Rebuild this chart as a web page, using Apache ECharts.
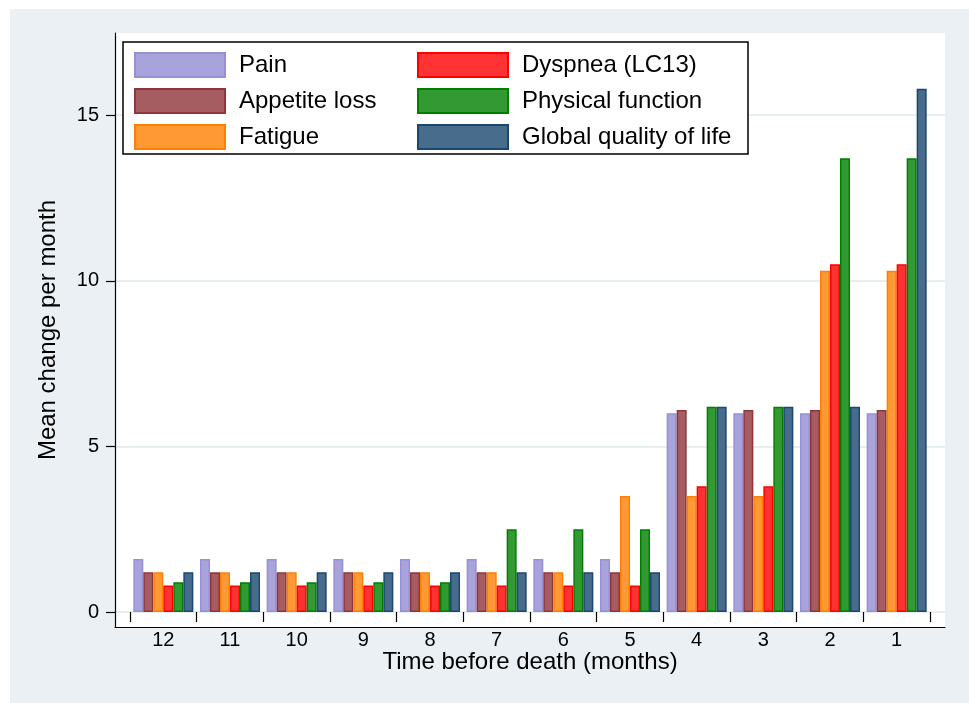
<!DOCTYPE html>
<html>
<head>
<meta charset="utf-8">
<script src="https://cdn.jsdelivr.net/npm/echarts@6/dist/echarts.min.js"></script>
<style>
html,body{margin:0;padding:0;background:#fff;width:969px;height:703px;overflow:hidden;}
#c{position:absolute;left:10px;top:9px;width:959px;height:694px;}
</style>
</head>
<body>
<div id="c"></div>
<script>
const categories = ['12','11','10','9','8','7','6','5','4','3','2','1'];
const pain      = [1.6,1.6,1.6,1.6,1.6,1.6,1.6,1.6,6.0,6.0,6.0,6.0];
const appetite  = [1.2,1.2,1.2,1.2,1.2,1.2,1.2,1.2,6.1,6.1,6.1,6.1];
const fatigue   = [1.2,1.2,1.2,1.2,1.2,1.2,1.2,3.5,3.5,3.5,10.3,10.3];
const dyspnea   = [0.8,0.8,0.8,0.8,0.8,0.8,0.8,0.8,3.8,3.8,10.5,10.5];
const physical  = [0.9,0.9,0.9,0.9,0.9,2.5,2.5,2.5,6.2,6.2,13.7,13.7];
const globalQol = [1.2,1.2,1.2,1.2,1.2,1.2,1.2,1.2,6.2,6.2,6.2,15.8];
const yTicks = [0,5,10,15];
const seriesNames = ['Pain','Appetite loss','Fatigue','Dyspnea (LC13)','Physical function','Global quality of life'];

const fills   = ['#a9a3dc','#a65d62','#ff9933','#ff3333','#339933','#486c8c'];
const borders = ['#9890d6','#90353b','#ff8000','#ff0000','#008000','#1a476f'];
const dataSets = [pain, appetite, fatigue, dyspnea, physical, globalQol];

const FONT = '"Liberation Sans", Arial, Helvetica, sans-serif';
const yMin = -0.453, yMax = 17.48;

const chart = echarts.init(document.getElementById('c'), null, {renderer:'canvas'});
chart.setOption({
  backgroundColor: '#eaf0f3',
  animation: false,
  textStyle: {fontFamily: FONT, color:'#000'},
  grid: [
    {left:105, right:24, top:24, bottom:76, show:true, backgroundColor:'#ffffff', borderWidth:0},
    {left:120, right:39, top:24, bottom:76}
  ],
  xAxis: [
    {gridIndex:0, type:'value', min:0, max:1,
     axisLine:{show:true, onZero:false, lineStyle:{color:'#000', width:1.2}},
     axisTick:{show:false}, axisLabel:{show:false}, splitLine:{show:false},
     name:'Time before death (months)', nameLocation:'middle', nameGap:23,
     nameTextStyle:{fontSize:24, color:'#000', fontFamily:FONT}},
    {gridIndex:1, type:'category', data:categories,
     axisLine:{show:false},
     axisTick:{show:true, length:10, lineStyle:{color:'#000', width:1.2}},
     axisLabel:{fontSize:20, color:'#000', margin:3, fontFamily:FONT}}
  ],
  yAxis: [
    {gridIndex:0, type:'value', min:yMin, max:yMax, splitNumber:4,
     axisLine:{show:true, onZero:false, lineStyle:{color:'#000', width:1.2}},
     axisTick:{show:true, length:9, customValues:yTicks, lineStyle:{color:'#000', width:1.2}},
     axisLabel:{fontSize:20, color:'#000', margin:16, customValues:yTicks, fontFamily:FONT},
     splitLine:{show:true, lineStyle:{color:'#e6eef1', width:2}},
     name:'Mean change per month', nameLocation:'middle', nameGap:55,
     nameTextStyle:{fontSize:24, color:'#000', fontFamily:FONT}},
    {gridIndex:1, type:'value', min:yMin, max:yMax, show:false, splitLine:{show:false}}
  ],
  graphic: [{
    type:'rect', z:3, shape:{x:113, y:33, width:625, height:112},
    style:{fill:'#fff', stroke:'#000', lineWidth:1.5}
  }],
  legend: [
    {data: seriesNames.slice(0,3), orient:'vertical', left:124, top:43, itemWidth:90, itemHeight:24, itemGap:10,
     icon:'rect', z:5, padding:0,
     textStyle:{fontSize:24, lineHeight:24, color:'#000', fontFamily:FONT, padding:[0,0,0,9]}},
    {data: seriesNames.slice(3,6), orient:'vertical', left:407, top:43, itemWidth:90, itemHeight:24, itemGap:10,
     icon:'rect', z:5, padding:0,
     textStyle:{fontSize:24, lineHeight:24, color:'#000', fontFamily:FONT, padding:[0,0,0,9]}}
  ],
  series: dataSets.map((d,i)=>({
    name: seriesNames[i], type:'bar', xAxisIndex:1, yAxisIndex:1, data:d,
    barGap:'0%', barCategoryGap:'10%',
    itemStyle:{color:fills[i], borderColor:borders[i], borderWidth:1.5},
    emphasis:{disabled:true}
  }))
});
</script>
</body>
</html>
